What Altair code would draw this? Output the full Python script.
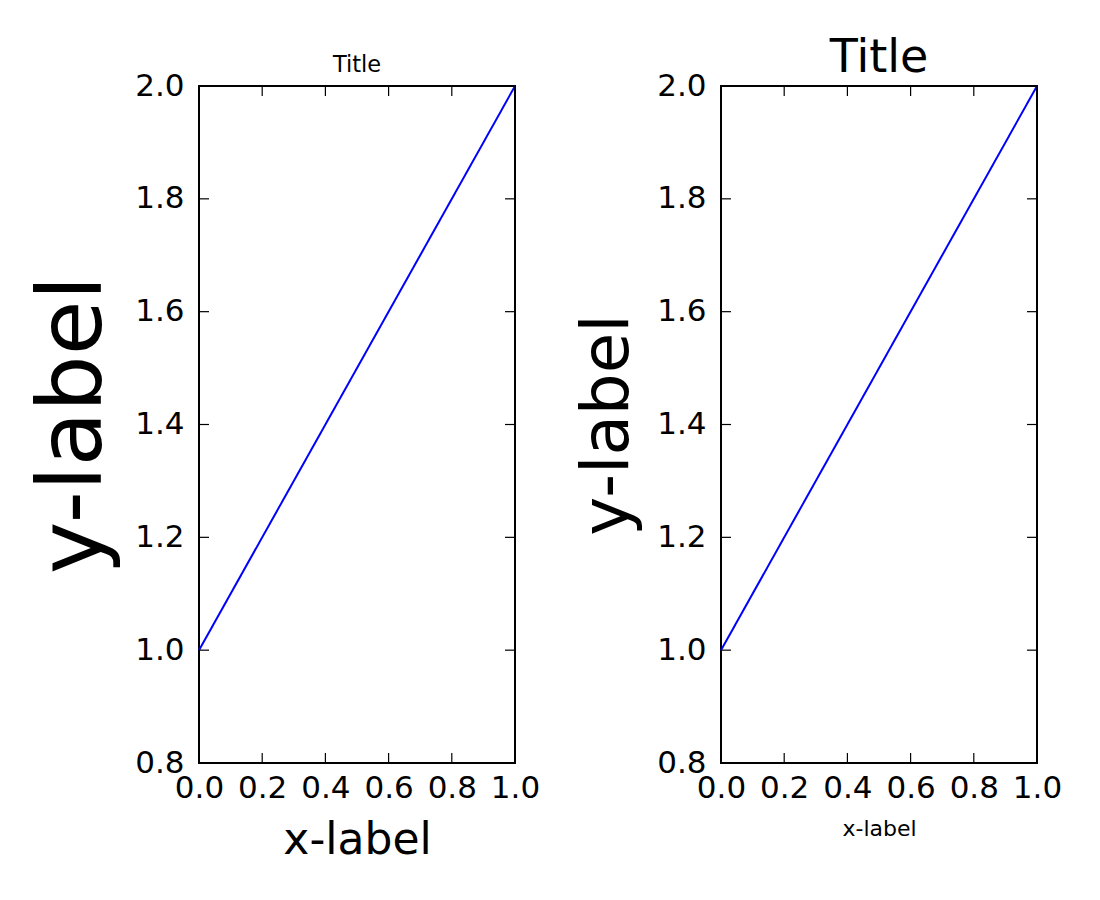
import altair as alt
import pandas as pd

# data
x_vals = [0.0, 1.0]
y_vals = [1.0, 2.0]
x_ticks = [0.0, 0.2, 0.4, 0.6, 0.8, 1.0]
y_ticks = [0.8, 1.0, 1.2, 1.4, 1.6, 1.8, 2.0]

W, H = 316, 677
TICK = 10
FONT = "DejaVu Sans"

line_df = pd.DataFrame({"x": x_vals, "y": y_vals})
xt_df = pd.DataFrame({"x": x_ticks})
yt_df = pd.DataFrame({"y": y_ticks})


def panel(title, title_size, title_dy, xlabel, xlabel_size, ylabel, ylabel_size):
    xscale = alt.Scale(domain=[0, 1], nice=False, zero=False)
    yscale = alt.Scale(domain=[0.8, 2.0], nice=False, zero=False)
    xaxis = alt.Axis(values=x_ticks, format=".1f", title=xlabel,
                     titleFontSize=xlabel_size, labelFontSize=31,
                     ticks=False, domain=False, grid=False,
                     labelFlush=False, labelOverlap=False, labelPadding=10,
                     titlePadding=15, labelFont=FONT, titleFont=FONT,
                     titleFontWeight="normal", labelColor="black",
                     titleColor="black")
    yaxis = alt.Axis(values=y_ticks, format=".1f", title=ylabel,
                     titleFontSize=ylabel_size, labelFontSize=31,
                     ticks=False, domain=False, grid=False,
                     labelFlush=False, labelOverlap=False, labelPadding=15,
                     titlePadding=15, labelFont=FONT, titleFont=FONT,
                     titleFontWeight="normal", labelColor="black",
                     titleColor="black")
    X = alt.X("x:Q", scale=xscale, axis=xaxis, title=xlabel)
    Y = alt.Y("y:Q", scale=yscale, axis=yaxis, title=ylabel)
    line = alt.Chart(line_df).mark_line(color="#0000ff", strokeWidth=2).encode(
        x=X, y=Y)
    xb = alt.Chart(xt_df).mark_rule(color="black", strokeWidth=1.2).encode(
        x=X, y=alt.value(H - TICK), y2=alt.value(H))
    xtp = alt.Chart(xt_df).mark_rule(color="black", strokeWidth=1.2).encode(
        x=X, y=alt.value(0), y2=alt.value(TICK))
    yl = alt.Chart(yt_df).mark_rule(color="black", strokeWidth=1.2).encode(
        y=Y, x=alt.value(0), x2=alt.value(TICK))
    yr = alt.Chart(yt_df).mark_rule(color="black", strokeWidth=1.2).encode(
        y=Y, x=alt.value(W - TICK), x2=alt.value(W))
    return alt.layer(line, xb, xtp, yl, yr).properties(
        width=W, height=H,
        title=alt.TitleParams(title, fontSize=title_size, font=FONT,
                              fontWeight="normal", color="black",
                              anchor="middle", baseline="top",
                              offset=0, dy=title_dy),
    )


left = panel("Title", 22.5, 6.5, "x-label", 44, "y-label", 89)
right = panel("Title", 46, 11.5, "x-label", 22, "y-label", 66)

chart = alt.hconcat(left, right, spacing=206, bounds="flush").properties(
    padding={"left": 20, "top": 25, "right": 10, "bottom": 10}
).configure_view(stroke="black", strokeWidth=2)

chart.save("out.html", embed_options={"renderer": "svg", "actions": False})
